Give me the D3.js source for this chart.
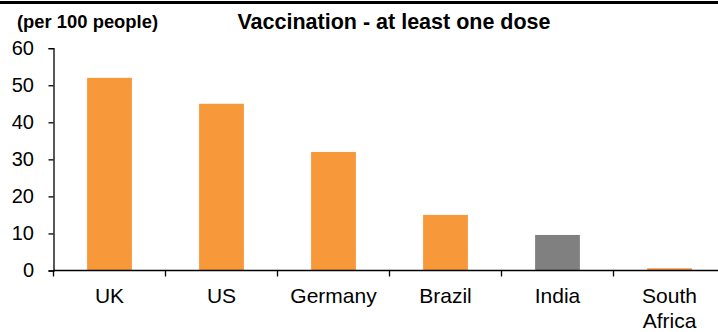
<!DOCTYPE html>
<html>
<head>
<meta charset="utf-8">
<script src="https://cdn.jsdelivr.net/npm/d3@7"></script>
<style>
  html, body { margin: 0; padding: 0; background: #fff; }
  svg { display: block; font-family: "Liberation Sans", Arial, sans-serif; }
</style>
</head>
<body>
<svg id="chart" width="718" height="332"></svg>
<script>
const countries = ['UK', 'US', 'Germany', 'Brazil', 'India', 'South Africa'];
const doses = [52, 45, 32, 15, 9.6, 0.6];
const barColors = ['#F7993A', '#F7993A', '#F7993A', '#F7993A', '#808080', '#F7993A'];
const yTicks = [0, 10, 20, 30, 40, 50, 60];

const svg = d3.select('#chart');
const W = 718;

const x = d3.scaleBand()
  .domain(countries)
  .range([53.5, 725.5])
  .padding(0);
const y = d3.scaleLinear()
  .domain([0, 60])
  .range([270.5, 48.2]);

// top rule
svg.append('line')
  .attr('x1', 0).attr('x2', W)
  .attr('y1', 2.5).attr('y2', 2.5)
  .attr('stroke', '#000')
  .attr('stroke-width', 3);

svg.append('text')
  .attr('x', 17)
  .attr('y', 28)
  .attr('font-size', 18.4)
  .attr('font-weight', 'bold')
  .text('(per 100 people)');

svg.append('text')
  .attr('x', 394)
  .attr('y', 29)
  .attr('text-anchor', 'middle')
  .attr('font-size', 21.5)
  .attr('font-weight', 'bold')
  .text('Vaccination - at least one dose');

const barW = x.bandwidth() * 0.4;
svg.selectAll('rect.bar').data(countries).join('rect')
  .attr('class', 'bar')
  .attr('x', d => x(d) + (x.bandwidth() - barW) / 2)
  .attr('width', barW)
  .attr('y', (d, i) => y(doses[i]))
  .attr('height', (d, i) => y(0) - y(doses[i]))
  .attr('fill', (d, i) => barColors[i]);

// y axis
svg.append('g')
  .attr('transform', 'translate(53.5,0)')
  .call(d3.axisLeft(y).tickValues(yTicks).tickSize(5).tickPadding(14.5))
  .call(axis => axis.selectAll('text').attr('font-size', 20).attr('fill', '#000').attr('font-family', null))
  .call(axis => axis.selectAll('path,line').attr('stroke', '#000').attr('stroke-width', 1.3));

// x axis: ticks at band edges
const xAxis = svg.append('g').attr('transform', 'translate(0,270.5)');
xAxis.append('line')
  .attr('x1', 53.5).attr('x2', W)
  .attr('stroke', '#000').attr('stroke-width', 1.3);
xAxis.selectAll('line.tick').data(countries).join('line')
  .attr('class', 'tick')
  .attr('x1', d => x(d)).attr('x2', d => x(d))
  .attr('y1', 0).attr('y2', 6)
  .attr('stroke', '#000').attr('stroke-width', 1.3);

xAxis.selectAll('text.cat').data(countries).join('text')
  .attr('class', 'cat')
  .attr('x', d => x(d) + x.bandwidth() / 2)
  .attr('y', 32.2)
  .attr('text-anchor', 'middle')
  .attr('font-size', 21)
  .each(function(d) {
    const parts = d.split(' ');
    d3.select(this).selectAll('tspan').data(parts).join('tspan')
      .attr('x', x(d) + x.bandwidth() / 2)
      .attr('dy', (p, i) => i === 0 ? 0 : 24.8)
      .text(p => p);
  });
</script>
</body>
</html>
